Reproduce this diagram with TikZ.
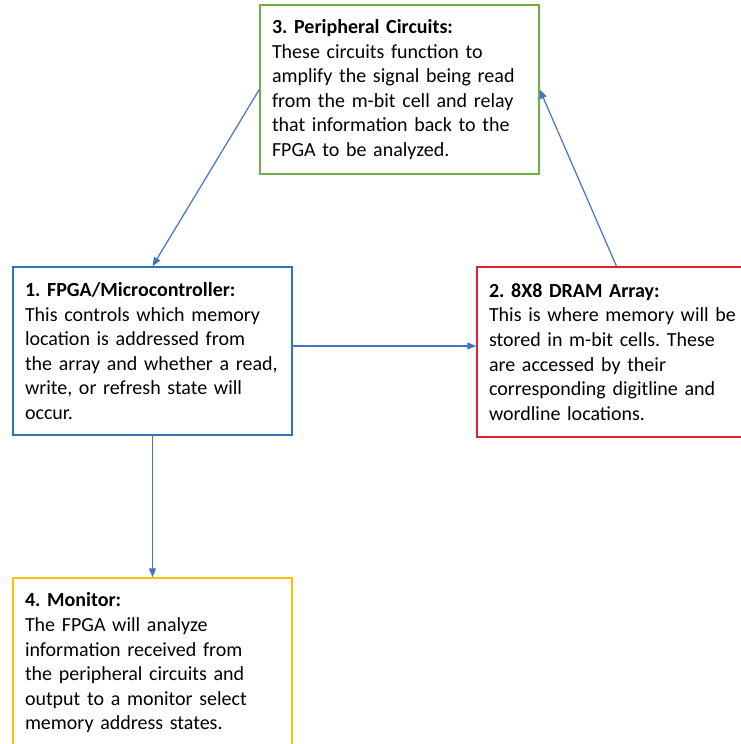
\documentclass[tikz,border=0pt]{standalone}
\usepackage{fontspec}
\setmainfont{Carlito}
\usetikzlibrary{arrows.meta}
\definecolor{boxblue}{HTML}{2E75B6}
\definecolor{boxred}{HTML}{E02030}
\definecolor{boxgreen}{HTML}{70AD47}
\definecolor{boxyellow}{HTML}{FFC000}
\definecolor{arrowblue}{HTML}{4472C4}
\frenchspacing
\begin{document}
\begin{tikzpicture}[
            x=1pt, y=-1pt,
            stage/.style={rectangle, draw, line width=1.4pt, minimum width=279pt,
                          text width=255pt, inner xsep=12pt, inner ysep=0pt, align=left,
                          font=\fontsize{20}{24.6}\selectfont},
            line/.style={draw=arrowblue, line width=1.2pt, -{Triangle[length=9pt,width=7pt]}}
        ]
        \useasboundingbox (0,0) rectangle (741,744);
        \clip (0,0) rectangle (741,744);

        % Top box
        \node[stage, draw=boxgreen, minimum height=169pt] (periph) at (399.5,89.5)
            {\textbf{3. Peripheral Circuits:}\\
             These circuits function to\\
             amplify the signal being read\\
             from the m-bit cell and relay\\
             that information back to the\\
             FPGA to be analyzed.};

        % Middle row
        \node[stage, draw=boxblue, minimum height=168pt] (fpga) at (152.5,351)
            {\textbf{1. FPGA/Microcontroller:}\\
             This controls which memory\\
             location is addressed from\\
             the array and whether a read,\\
             write, or refresh state will\\
             occur.};
        \node[stage, draw=boxred, minimum height=170pt] (dram) at (616.5,352)
            {\textbf{2. 8X8 DRAM Array:}\\
             This is where memory will be\\
             stored in m-bit cells. These\\
             are accessed by their\\
             corresponding digitline and\\
             wordline locations.};

        % Bottom box
        \node[stage, draw=boxyellow, minimum height=170pt] (monitor) at (152.5,663)
            {\textbf{4. Monitor:}\\
             The FPGA will analyze\\
             information received from\\
             the peripheral circuits and\\
             output to a monitor select\\
             memory address states.};

        \draw[line] (periph.west) -- (fpga.north);
        \draw[line] ([yshift=5pt]fpga.east) -- ([yshift=6pt]dram.west);
        \draw[line] (dram.north) -- (periph.east);
        \draw[line] (fpga.south) -- (monitor.north);

    \end{tikzpicture}
\end{document}
